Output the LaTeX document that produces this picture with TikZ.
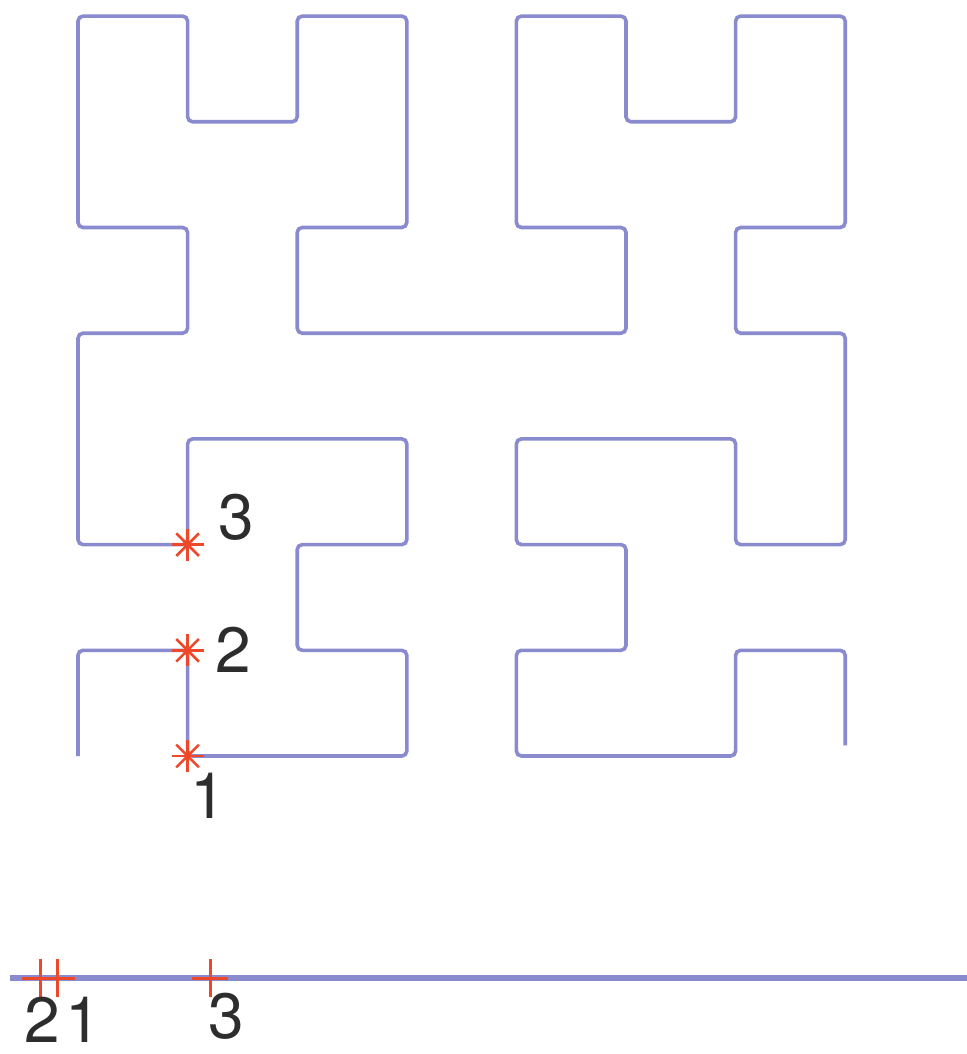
\documentclass[tikz,border=0pt]{standalone}
\usepackage{fontspec}
\setmainfont{TeX Gyre Heros}

\definecolor{curveblue}{RGB}{138,138,206}
\definecolor{markred}{RGB}{238,72,42}
\definecolor{labelgray}{RGB}{45,45,45}

\begin{document}
\begin{tikzpicture}[x=0.5pt,y=-0.5pt,
    hilbert/.style={draw=curveblue, line width=1.8pt, rounded corners=2.5pt},
    axisline/.style={draw=curveblue, line width=2.8pt},
    digit/.style={text=labelgray, font=\fontsize{32}{36}\selectfont, inner sep=0pt},
    redstar/.pic={
      \foreach \a in {0,45,90,135}
        \draw[markred, line width=1.3pt] (\a:8pt) -- (\a+180:8pt);
    },
    redplus/.pic={
      \draw[markred, line width=1.5pt] (-9pt,0) -- (9pt,0) (0,-9.5pt) -- (0,9.5pt);
    }]
  \useasboundingbox (0,0) rectangle (967,1054);

  % CURVE (grid units, origin at lower left corner)
  \begin{scope}[shift={(78,756)}, x=54.8pt, y=52.85pt]
    \draw[hilbert] (0,0) -- (0,1) -- (1,1) -- (1,0) -- (2,0) -- (3,0) -- (3,1) -- (2,1)
      -- (2,2) -- (3,2) -- (3,3) -- (2,3) -- (1,3) -- (1,2) -- (0,2) -- (0,3)
      -- (0,4) -- (1,4) -- (1,5) -- (0,5) -- (0,6) -- (0,7) -- (1,7) -- (1,6)
      -- (2,6) -- (2,7) -- (3,7) -- (3,6) -- (3,5) -- (2,5) -- (2,4) -- (3,4)
      -- (4,4) -- (5,4) -- (5,5) -- (4,5) -- (4,6) -- (4,7) -- (5,7) -- (5,6)
      -- (6,6) -- (6,7) -- (7,7) -- (7,6) -- (7,5) -- (6,5) -- (6,4) -- (7,4)
      -- (7,3) -- (7,2) -- (6,2) -- (6,3) -- (5,3) -- (4,3) -- (4,2) -- (5,2)
      -- (5,1) -- (4,1) -- (4,0) -- (5,0) -- (6,0) -- (6,1) -- (7,1) -- (7,0.1);

    % MARKED POINTS
    \draw (1,0) pic {redstar}
      +(0,0)       coordinate (p1)   % used to label the star
      +(0.19,-0.38) node[digit] (l1) {1}
      ;

    \draw (1,1) pic {redstar}
      +(0,0)       coordinate (p2)   % used to label the star
      +(0.42,0)    node[digit] (l2) {2}
      ;

    \draw (1,2) pic {redstar}
      +(0,0)       coordinate (p3)   % used to label the star
      +(0.44,0.26) node[digit] (l3) {3}
      ;
  \end{scope}

  % LINE
  \coordinate (lineleft)  at (10,978);
  \coordinate (lineright) at (967,978);
  \draw[axisline] (lineleft) -- (lineright);

  % MARKS ON THE LINE
  \draw (40,978) pic {redplus}
    +(0,0)   coordinate (q2)
    +(2,42)  node[digit] (m2) {2}
    ;

  \draw (57,978) pic {redplus}
    +(0,0)   coordinate (q1)
    +(26,42) node[digit] (m1) {1}
    ;

  \draw (210,978) pic {redplus}
    +(0,0)   coordinate (q3)
    +(16,38) node[digit] (m3) {3}
    ;

\end{tikzpicture}
\end{document}
